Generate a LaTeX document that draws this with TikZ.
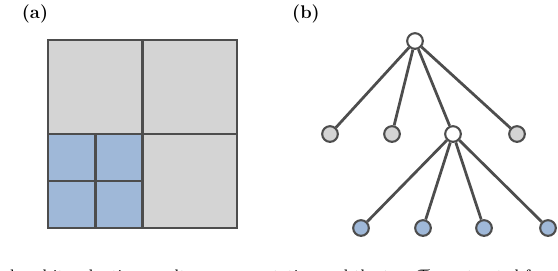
\documentclass[tikz,border=0pt]{standalone}
\usepackage{amsmath,amssymb}
\usepackage{xcolor}
\usepackage{tikz}
\usetikzlibrary{positioning, calc}

\definecolor{edgegray}{HTML}{4D4D4D}
\definecolor{cellgray}{HTML}{D4D4D4}
\definecolor{cellblue}{HTML}{9FB8D8}

\tikzset{
    cellline/.style={draw=edgegray, line width=1.25pt},
    treenode/.style={circle, draw=edgegray, line width=1.25pt, minimum size=9.4pt, inner sep=0pt},
    treeedge/.style={draw=edgegray, line width=1.65pt},
    panellabel/.style={font=\fontsize{11}{13}\selectfont\bfseries},
}

\begin{document}
\begin{tikzpicture}[x=0.6pt, y=-0.6pt]
        \useasboundingbox (0,0) rectangle (558,270);

        % 1. Panel labels
        \node[panellabel] (labA) at (35,14) {(a)};
        \node[panellabel] (labB) at (306,14) {(b)};

        % 2. Quadtree cells (fill first)
        \fill[cellgray] (48,40) rectangle (237,228);
        \fill[cellblue] (48,134) rectangle (142.5,228);

        % 3. Quadtree grid lines
        \draw[cellline] (48,40) rectangle (237,228);
        \draw[cellline] (142.5,40) -- (142.5,228);
        \draw[cellline] (48,134) -- (237,134);
        \draw[cellline] (95.5,134) -- (95.5,228);
        \draw[cellline] (48,181) -- (142.5,181);

        % 4. Tree nodes
        \node[treenode, fill=white] (root) at (415,41) {};
        \node[treenode, fill=cellgray] (q1) at (330,134) {};
        \node[treenode, fill=cellgray] (q2) at (392,134) {};
        \node[treenode, fill=white] (q3) at (453,134) {};
        \node[treenode, fill=cellgray] (q4) at (517,134) {};
        \foreach \i/\x in {1/361, 2/423, 3/484, 4/548}
            \node[treenode, fill=cellblue] (s\i) at (\x,228) {};

        % 5. Tree edges
        \foreach \c in {q1,q2,q3,q4}
            \draw[treeedge] (root) -- (\c);
        \foreach \c in {s1,s2,s3,s4}
            \draw[treeedge] (q3) -- (\c);

        % 6. Caption line (only its top shows above the page edge)
        \node[anchor=base west, inner sep=0pt] (capt) at (-4,281.5)
            {hd and its adaptive quadtree representation and the tree $\mathcal{T}$ constructed from};

    \end{tikzpicture}
\end{document}
